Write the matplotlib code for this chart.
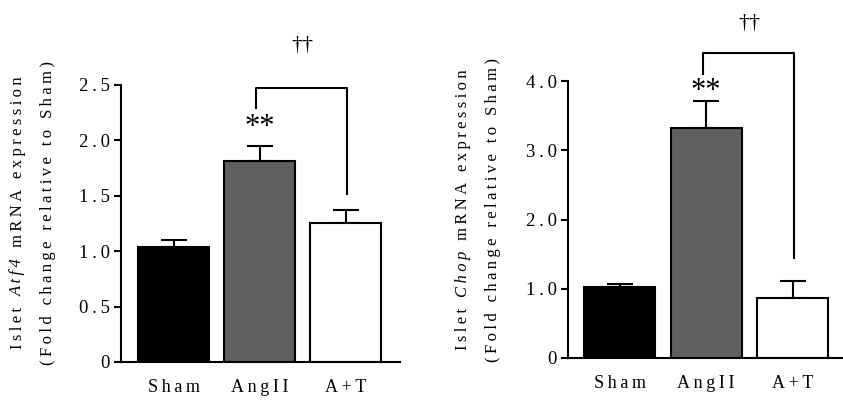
import matplotlib
matplotlib.use("Agg")
import matplotlib.pyplot as plt

plt.rcParams['font.family'] = ['Liberation Serif', 'DejaVu Serif']

groups = ["Sham", "AngII", "A+T"]
colors = ["#000000", "#606060", "#ffffff"]

atf4_mean = [1.04, 1.81, 1.25]
atf4_err = [0.06, 0.14, 0.12]
chop_mean = [1.03, 3.32, 0.87]
chop_err = [0.04, 0.39, 0.24]

atf4_ticks = [0, 0.5, 1.0, 1.5, 2.0, 2.5]
atf4_ticklabels = ["0", "0.5", "1.0", "1.5", "2.0", "2.5"]
chop_ticks = [0, 1.0, 2.0, 3.0, 4.0]
chop_ticklabels = ["0", "1.0", "2.0", "3.0", "4.0"]

label_line1 = [("Islet", "normal"), (None, "italic"), ("mRNA", "normal"), ("expression", "normal")]
label_line2 = "(Fold change relative to Sham)"

W, H = 843, 408
TS = "\u2009"  # thin space: letter tracking as in the reference


def track(s):
    return (TS + " " + TS).join(TS.join(w) for w in s.split(" "))


fig = plt.figure(figsize=(W / 100, H / 100), dpi=100)
fig.canvas.draw()
renderer = fig.canvas.get_renderer()


def text_width(s, fs, style="normal"):
    t = fig.text(0, 0, s, fontsize=fs, style=style)
    w = t.get_window_extent(renderer).width
    t.remove()
    return w


def vertical_label(gene, x1, x2, ymid, fs=12):
    pieces = [(track(gene if s is None else s), st) for s, st in label_line1]
    widths = [text_width(s, fs, st) for s, st in pieces]
    gap = text_width("a" + TS + " " + TS + "a", fs) - text_width("aa", fs)
    total = sum(widths) + gap * (len(pieces) - 1)
    y = ymid + total / 2
    for (s, st), w in zip(pieces, widths):
        fig.text(x1 / W, 1 - y / H, s, fontsize=fs, style=st, rotation=90,
                 rotation_mode="anchor", ha="left", va="baseline")
        y -= w + gap
    fig.text(x2 / W, 1 - ymid / H, track(label_line2), fontsize=fs, rotation=90,
             rotation_mode="anchor", ha="center", va="baseline")


ax1 = fig.add_axes([121 / W, 46 / H, 279 / W, 277 / H])
ax2 = fig.add_axes([568 / W, 50 / H, 275 / W, 277 / H])


def panel(ax, means, errs, ticks, ticklabels, ymax, xlim,
          br_top, br_left, br_right, star_y, dag_y):
    x = list(range(len(groups)))
    ax.bar(x, means, width=0.82, color=colors, edgecolor="black", linewidth=1.5, zorder=2)
    ax.errorbar(x, means, yerr=[[0] * len(errs), errs], fmt="none", ecolor="black",
                elinewidth=1.5, capsize=9.5, capthick=1.5, zorder=1)
    ax.set_xlim(*xlim)
    ax.set_ylim(0, ymax)
    ax.set_yticks(ticks)
    ax.set_yticklabels([track(t) for t in ticklabels], fontsize=13.5)
    ax.set_xticks(x)
    ax.set_xticklabels([track(g) for g in groups], fontsize=13)
    ax.tick_params(axis='x', length=0, pad=12)
    ax.tick_params(axis='y', length=5, width=1.5, pad=3)
    for s in ["top", "right"]:
        ax.spines[s].set_visible(False)
    for s in ["left", "bottom"]:
        ax.spines[s].set_linewidth(1.5)
    ax.plot([1 - 0.04, 1 - 0.04, 2 + 0.02, 2 + 0.02], [br_left, br_top, br_top, br_right],
            color="black", lw=1.5, clip_on=False)
    ax.text(1, star_y, "**", ha="center", va="center", fontsize=22)
    ax.text(1.5, dag_y, "††", ha="center", va="center", fontsize=16, clip_on=False)


panel(ax1, atf4_mean, atf4_err, atf4_ticks, atf4_ticklabels, 2.5, (-0.61, 2.63),
      2.47, 2.29, 1.52, 2.12, 2.86)
panel(ax2, chop_mean, chop_err, chop_ticks, chop_ticklabels, 4.0, (-0.595, 2.58),
      4.41, 4.10, 1.45, 3.85, 4.83)

vertical_label("Atf4", 22, 52, 213)
vertical_label("Chop", 467, 497, 210)

fig.savefig("out.png", dpi=100)
